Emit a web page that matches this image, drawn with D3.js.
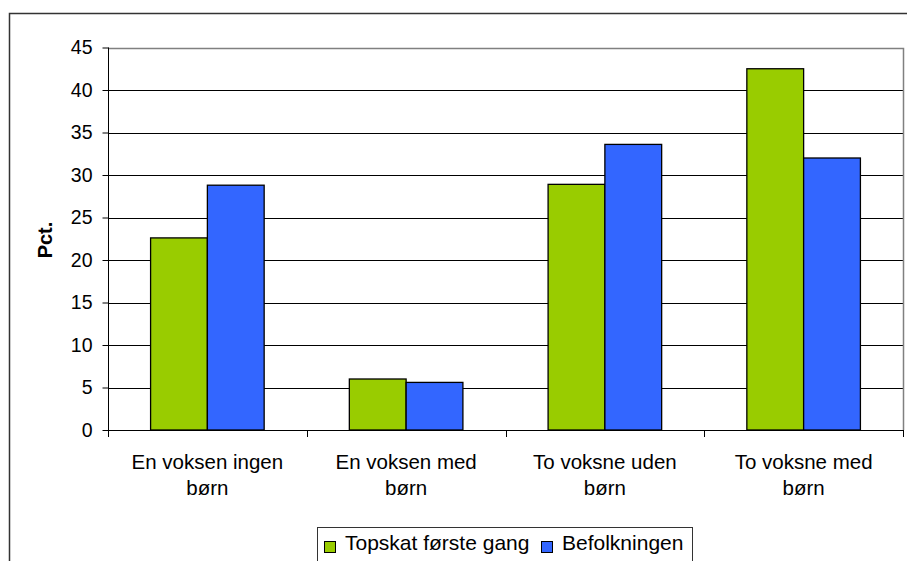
<!DOCTYPE html>
<html>
<head>
<meta charset="utf-8">
<script src="https://cdn.jsdelivr.net/npm/d3@7"></script>
<style>
  body { margin: 0; background: #fff; }
  svg { display: block; font-family: "Liberation Sans", Arial, sans-serif; }
</style>
</head>
<body>
<svg width="907" height="561"></svg>
<script>
// Data
const categories = [
  ["En voksen ingen", "børn"],
  ["En voksen med", "børn"],
  ["To voksne uden", "børn"],
  ["To voksne med", "børn"]
];
const series = ["Topskat første gang", "Befolkningen"];
const topskat = [22.6, 6.0, 28.9, 42.5];
const befolkning = [28.8, 5.6, 33.6, 32.0];
const yTicks = [0, 5, 10, 15, 20, 25, 30, 35, 40, 45];
const colors = ["#99cc00", "#3366ff"];

const svg = d3.select("svg");

// outer chart frame (runs off the right and bottom edge)
svg.append("rect")
  .attr("x", 9.5).attr("y", 13.5)
  .attr("width", 960).attr("height", 600)
  .attr("fill", "#fff")
  .attr("stroke", "#333")
  .attr("stroke-width", 1.5);

const plotLeft = 108, plotRight = 903, plotTop = 47.5, plotBottom = 430;

const y = d3.scaleLinear().domain([0, 45]).range([plotBottom, plotTop]);

const x0 = d3.scaleBand()
  .domain(d3.range(categories.length))
  .range([plotLeft, plotRight])
  .padding(0);

const step = x0.bandwidth();
const gap = step * 0.75 / 3.5; // excel gap width 150%
const x1 = d3.scaleBand()
  .domain(d3.range(series.length))
  .range([gap, step - gap]);

// gridlines
svg.append("g")
  .selectAll("line")
  .data(yTicks.filter((t) => t > 0 && t < 45))
  .enter()
  .append("line")
  .attr("x1", plotLeft).attr("x2", plotRight)
  .attr("y1", (d) => Math.round(y(d)) + 0.5)
  .attr("y2", (d) => Math.round(y(d)) + 0.5)
  .attr("stroke", "#000")
  .attr("stroke-width", 1);

// plot area border (top + right)
svg.append("path")
  .attr("d", `M${plotLeft},${Math.round(plotTop) + 0.5}H${plotRight + 0.5}V${plotBottom}`)
  .attr("fill", "none")
  .attr("stroke", "#808080")
  .attr("stroke-width", 1.5);

// bars
const rows = categories.map((c, i) => [topskat[i], befolkning[i]]);

const groups = svg.append("g")
  .selectAll("g")
  .data(rows)
  .enter()
  .append("g")
  .attr("transform", (d, i) => `translate(${x0(i)},0)`);

groups.selectAll("rect")
  .data((d) => d)
  .enter()
  .append("rect")
  .attr("x", (d, j) => x1(j))
  .attr("y", (d) => y(d))
  .attr("width", x1.bandwidth())
  .attr("height", (d) => y(0) - y(d))
  .attr("fill", (d, j) => colors[j])
  .attr("stroke", "#000")
  .attr("stroke-width", 1.3);

// y axis
const yAxis = d3.axisLeft(y).tickValues(yTicks).tickSize(6).tickPadding(10);
const gy = svg.append("g")
  .attr("transform", `translate(${plotLeft + 0.5},0)`)
  .call(yAxis);
gy.select(".domain").attr("stroke", "#000").attr("d", `M0,${plotTop}V${plotBottom}`);
gy.selectAll(".tick line").attr("stroke", "#000");
gy.selectAll(".tick text")
  .attr("font-size", 19.5)
  .attr("fill", "#000")
  .attr("font-family", "Liberation Sans, Arial, sans-serif");

// x axis line + category boundary ticks
svg.append("line")
  .attr("x1", plotLeft).attr("x2", plotRight)
  .attr("y1", plotBottom + 0.5).attr("y2", plotBottom + 0.5)
  .attr("stroke", "#000");

svg.append("g")
  .selectAll("line")
  .data(d3.range(categories.length + 1))
  .enter()
  .append("line")
  .attr("x1", (i) => Math.round(plotLeft + i * step) + 0.5)
  .attr("x2", (i) => Math.round(plotLeft + i * step) + 0.5)
  .attr("y1", plotBottom)
  .attr("y2", plotBottom + 7)
  .attr("stroke", "#000");

// category labels
const labels = svg.append("g")
  .selectAll("text")
  .data(categories)
  .enter()
  .append("text")
  .attr("text-anchor", "middle")
  .attr("font-size", 20.5)
  .attr("fill", "#000")
  .attr("transform", (d, i) => `translate(${x0(i) + step / 2},0)`);

labels.selectAll("tspan")
  .data((d) => d)
  .enter()
  .append("tspan")
  .attr("x", 0)
  .attr("y", (d, k) => 469 + k * 26)
  .text((d) => d);

// y title
svg.append("text")
  .attr("transform", "translate(52,240) rotate(-90)")
  .attr("text-anchor", "middle")
  .attr("font-size", 20)
  .attr("font-weight", "bold")
  .attr("fill", "#000")
  .text("Pct.");

// legend
const legend = svg.append("g");
legend.append("rect")
  .attr("x", 317.5).attr("y", 527.5)
  .attr("width", 375).attr("height", 60)
  .attr("fill", "#fff")
  .attr("stroke", "#333")
  .attr("stroke-width", 1);

const legendX = [324, 541];
const items = legend.selectAll("g.item")
  .data(series)
  .enter()
  .append("g")
  .attr("class", "item")
  .attr("transform", (d, i) => `translate(${legendX[i]},0)`);

items.append("rect")
  .attr("x", 0.5).attr("y", 541.5)
  .attr("width", 11).attr("height", 11)
  .attr("fill", (d, i) => colors[i])
  .attr("stroke", "#000");

items.append("text")
  .attr("x", 21)
  .attr("y", 549.5)
  .attr("font-size", 21)
  .attr("fill", "#000")
  .text((d) => d);
</script>
</body>
</html>
